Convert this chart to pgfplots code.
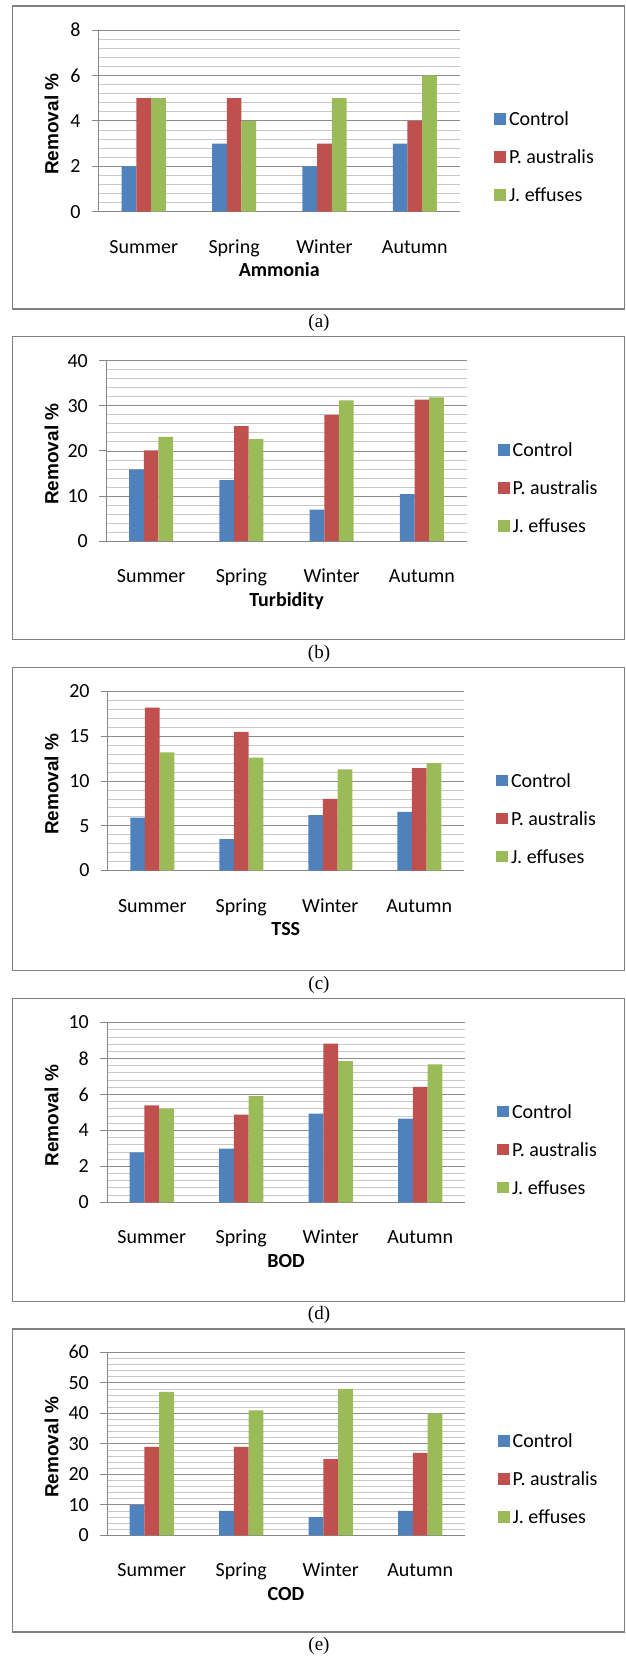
\documentclass[border=0pt]{standalone}
\usepackage{pgfplots}
\pgfplotsset{compat=1.18}
\usepackage{fontspec}
\setmainfont{Carlito}
\newfontfamily\capfont{Liberation Serif}
\newfontfamily\ylabfont{Liberation Sans}
\definecolor{cblue}{RGB}{79,129,189}
\definecolor{cred}{RGB}{192,80,77}
\definecolor{cgreen}{RGB}{155,187,89}
\definecolor{majgrid}{RGB}{140,140,140}
\definecolor{mingrid}{RGB}{200,200,200}
\definecolor{axgray}{RGB}{134,134,134}
\definecolor{framegray}{RGB}{128,128,128}
\newcommand{\tw}{\fontsize{20bp}{24bp}\selectfont}
\pgfplotsset{
  panel/.style={
    scale only axis, ybar, bar width=14.7bp,
    xmin=-0.5, xmax=3.5, ymin=0,
    xtick={0,1,2,3}, xticklabels={Summer,Spring,Winter,Autumn},
    axis x line*=bottom, axis y line*=left,
    axis line style={draw=axgray, line width=0.9bp},
    ymajorgrids, yminorgrids, minor y tick num=4,
    major grid style={draw=majgrid, line width=0.8bp},
    minor grid style={draw=mingrid, line width=0.8bp},
    tick align=outside, major tick length=7bp, minor tick length=0pt,
    xtick style={draw=none},
    ytick style={draw=axgray, line width=0.9bp},
    /pgf/number format/assume math mode=true,
    ticklabel style={font=\tw},
    yticklabel style={anchor=east, inner sep=0pt, xshift=-11bp},
    xticklabel style={anchor=base, inner sep=0pt, yshift=-34.5bp},
    ylabel={Removal \%},
    xlabel style={font=\tw\bfseries, at={([yshift=-65bp]axis description cs:0.5,0)}, anchor=base, inner sep=0pt},
    legend cell align=left,
    legend style={draw=none, fill=none, inner sep=0pt, outer sep=0pt, font=\tw,
      row sep=20bp, nodes={inner sep=0pt, text height=14bp, text depth=4bp},
      /tikz/every odd column/.append style={column sep=3bp}},
  },
  ylab/.style={ylabel style={font=\ylabfont\bfseries\fontsize{19bp}{22bp}\selectfont, at={([xshift=-#1, yshift=-3.3bp]axis description cs:0,0.5)}, anchor=base, rotate=0, inner sep=0pt}},
  leg/.style={legend style={at={([xshift=#1, yshift=-128.5bp]axis description cs:0,1)}, anchor=west}},
  sq/.style={legend image code/.code={\path[##1] (0bp,-4.3bp) rectangle (12bp,7.4bp);}},
}
\begin{document}
\begin{tikzpicture}
\useasboundingbox (0,0) rectangle (626bp,-1658bp);
% frames and captions
\foreach \T/\c in {6/a,336.75/b,667.5/c,998.25/d,1329/e}{
  \draw[framegray, line width=1.3bp] (12.8bp,-\T bp) rectangle (624.8bp,-\T bp-303bp);
  \node[font=\capfont\fontsize{19bp}{22bp}\selectfont] at (319bp,-\T bp-317bp) {(\c)};
}
% (a)
\begin{axis}[panel, at={(98.6bp,-30bp)}, anchor=north west, width=361.4bp, height=181.7bp,
  ymax=8, ytick={0,2,...,8}, xlabel={Ammonia}, ylab=40.3bp, leg=395.4bp]
\addplot[fill=cblue, draw=none, bar shift=-14.7bp, sq] coordinates {(0,2) (1,3) (2,2) (3,3)};
\addplot[fill=cred, draw=none, bar shift=0bp, sq] coordinates {(0,5) (1,5) (2,3) (3,4)};
\addplot[fill=cgreen, draw=none, bar shift=14.7bp, sq] coordinates {(0,5) (1,4) (2,5) (3,6)};
\legend{Control, P. australis, J. effuses}
\end{axis}
% (b)
\begin{axis}[panel, at={(106bp,-360.75bp)}, anchor=north west, width=361bp, height=180.3bp,
  ymax=40, ytick={0,10,...,40}, xlabel={Turbidity}, ylab=47.7bp, leg=391.7bp]
\addplot[fill=cblue, draw=none, bar shift=-14.7bp, sq] coordinates {(0,15.9) (1,13.5) (2,7.0) (3,10.4)};
\addplot[fill=cred, draw=none, bar shift=0bp, sq] coordinates {(0,20.1) (1,25.5) (2,28.0) (3,31.4)};
\addplot[fill=cgreen, draw=none, bar shift=14.7bp, sq] coordinates {(0,23.1) (1,22.6) (2,31.2) (3,31.9)};
\legend{Control, P. australis, J. effuses}
\end{axis}
% (c)
\begin{axis}[panel, at={(107.8bp,-691.5bp)}, anchor=north west, width=356bp, height=179bp,
  ymax=20, ytick={0,5,...,20}, xlabel={TSS}, ylab=49.5bp, leg=388.2bp]
\addplot[fill=cblue, draw=none, bar shift=-14.7bp, sq] coordinates {(0,5.9) (1,3.5) (2,6.2) (3,6.55)};
\addplot[fill=cred, draw=none, bar shift=0bp, sq] coordinates {(0,18.2) (1,15.5) (2,8.0) (3,11.45)};
\addplot[fill=cgreen, draw=none, bar shift=14.7bp, sq] coordinates {(0,13.2) (1,12.6) (2,11.3) (3,12.0)};
\legend{Control, P. australis, J. effuses}
\end{axis}
% (d)
\begin{axis}[panel, at={(107bp,-1022.55bp)}, anchor=north west, width=358bp, height=179.7bp,
  ymax=10, ytick={0,2,...,10}, xlabel={BOD}, ylab=48.7bp, leg=390bp]
\addplot[fill=cblue, draw=none, bar shift=-14.7bp, sq] coordinates {(0,2.77) (1,2.98) (2,4.93) (3,4.66)};
\addplot[fill=cred, draw=none, bar shift=0bp, sq] coordinates {(0,5.39) (1,4.88) (2,8.83) (3,6.42)};
\addplot[fill=cgreen, draw=none, bar shift=14.7bp, sq] coordinates {(0,5.21) (1,5.9) (2,7.85) (3,7.68)};
\legend{Control, P. australis, J. effuses}
\end{axis}
% (e)
\begin{axis}[panel, at={(107bp,-1352.3bp)}, anchor=north west, width=358bp, height=183bp,
  ymax=60, ytick={0,10,...,60}, xlabel={COD}, ylab=48.7bp, leg=390.7bp]
\addplot[fill=cblue, draw=none, bar shift=-14.7bp, sq] coordinates {(0,10) (1,8) (2,6) (3,8)};
\addplot[fill=cred, draw=none, bar shift=0bp, sq] coordinates {(0,29) (1,29) (2,25) (3,27)};
\addplot[fill=cgreen, draw=none, bar shift=14.7bp, sq] coordinates {(0,47) (1,41) (2,48) (3,40)};
\legend{Control, P. australis, J. effuses}
\end{axis}
\end{tikzpicture}
\end{document}
